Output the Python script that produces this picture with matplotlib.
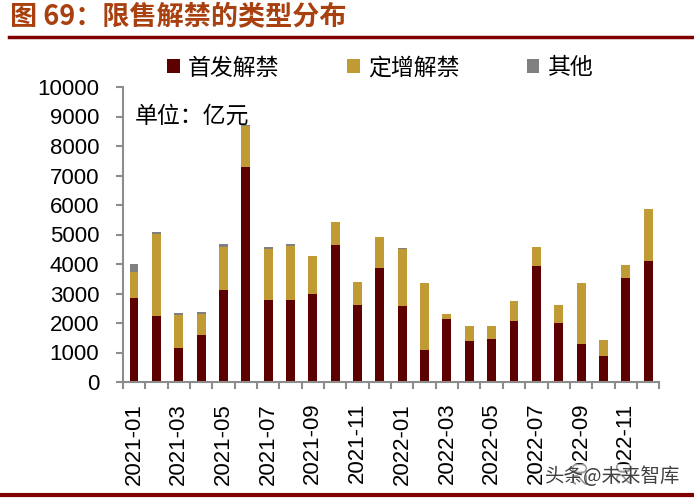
import matplotlib.pyplot as plt

plt.rcParams['font.family'] = ['Noto Sans CJK SC', 'DejaVu Sans']

months = ['2021-01', '2021-02', '2021-03', '2021-04', '2021-05', '2021-06',
          '2021-07', '2021-08', '2021-09', '2021-10', '2021-11', '2021-12',
          '2022-01', '2022-02', '2022-03', '2022-04', '2022-05', '2022-06',
          '2022-07', '2022-08', '2022-09', '2022-10', '2022-11', '2022-12']
ipo = [2853, 2242, 1155, 1586, 3103, 7303, 2775, 2786, 2990, 4654, 2605, 3873,
       2582, 1087, 2140, 1382, 1461, 2072, 3920, 1994, 1291, 883, 3533, 4110]
placement = [863, 2765, 1121, 736, 1472, 1382, 1732, 1823, 1280, 760, 781, 1042,
             1925, 2276, 160, 500, 431, 679, 644, 601, 2072, 533, 431, 1756]
other = [272, 68, 79, 45, 91, 25, 57, 68, 10, 10, 5, 10,
         34, 5, 5, 5, 5, 10, 10, 5, 5, 5, 5, 5]

c_ipo = '#5C0000'
c_pl = '#C09A34'
c_ot = '#808080'
axis_c = '#8C8C8C'

fig = plt.figure(figsize=(6.94, 5.0), dpi=100)
ax = fig.add_axes([0.177, 0.236, 0.773, 0.590])

x = list(range(len(months)))
bw = 0.4
ax.bar(x, ipo, width=bw, color=c_ipo, label='首发解禁')
ax.bar(x, placement, width=bw, bottom=ipo, color=c_pl, label='定增解禁')
base3 = [a + b for a, b in zip(ipo, placement)]
ax.bar(x, other, width=bw, bottom=base3, color=c_ot, label='其他')

ax.set_xlim(-0.5, len(months) - 0.5)
ax.set_ylim(0, 10000)
ax.set_yticks(range(0, 10001, 1000))
ax.set_xticks(x[::2])
ax.set_xticklabels(months[::2], rotation=90, family='Liberation Sans', fontsize=16)
ax.set_xticks([i - 0.5 for i in range(len(months) + 1)], minor=True)
ax.tick_params(axis='x', which='major', length=0, pad=15)
ax.tick_params(axis='x', which='minor', length=5, width=1.5, color=axis_c, direction='out')
ax.tick_params(axis='y', length=5, width=1.5, color=axis_c, pad=12)
for lab in ax.get_yticklabels():
    lab.set_family('Liberation Sans')
    lab.set_fontsize(16)

for s in ['top', 'right']:
    ax.spines[s].set_visible(False)
for s in ['left', 'bottom']:
    ax.spines[s].set_color(axis_c)
    ax.spines[s].set_linewidth(1.5)

ax.text(0.022, 0.94, '单位：亿元', transform=ax.transAxes, fontsize=16.5,
        va='top', ha='left')

# legend
fig.legend(loc='center', bbox_to_anchor=(0.548, 0.864), ncol=3, frameon=False,
           fontsize=16.5, handlelength=0.55, handleheight=0.55,
           columnspacing=2.95, handletextpad=0.35)

fig.text(0.015, 0.966, '图 69：限售解禁的类型分布', fontsize=19.5, fontweight='bold',
         color='#A8400F', va='center', ha='left')
fig.add_artist(plt.Line2D([0.013, 1.0], [0.927, 0.927], color='#800000', lw=2.5,
                          transform=fig.transFigure))
fig.add_artist(plt.Line2D([0.0, 1.0], [0.01, 0.01], color='#800000', lw=3,
                          transform=fig.transFigure))

fig.text(0.98, 0.048, '头条@未来智库', fontsize=14, color='#404040', ha='right',
         va='center', bbox=dict(facecolor='white', edgecolor='none', alpha=0.6, pad=1))

fig.savefig('out.png', dpi=100)
